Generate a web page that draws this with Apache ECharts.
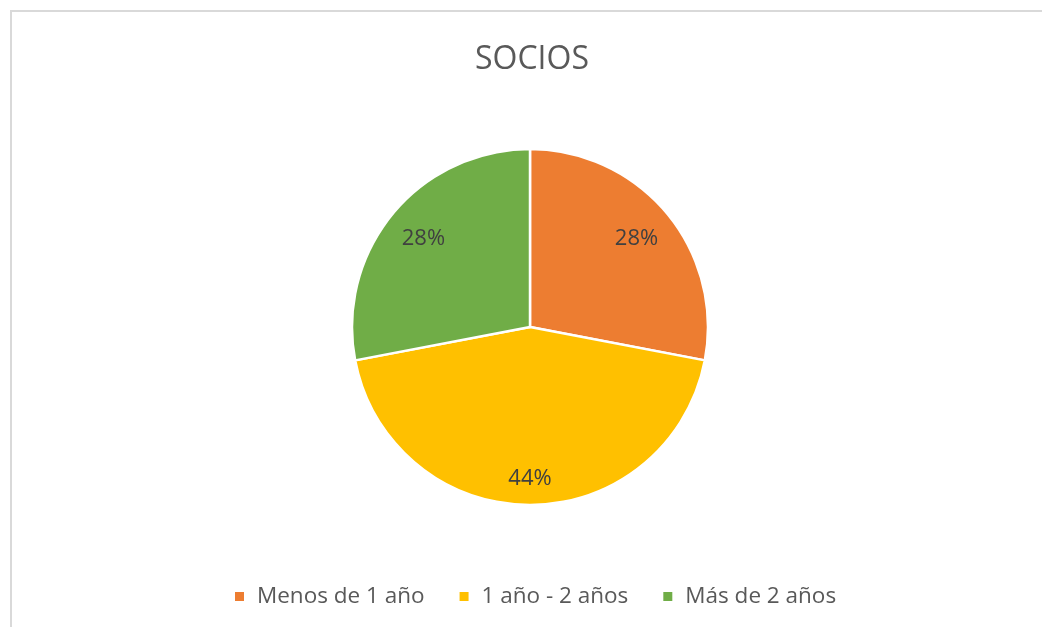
<!DOCTYPE html>
<html>
<head>
<meta charset="utf-8">
<title>SOCIOS</title>
<script src="https://cdn.jsdelivr.net/npm/echarts@6/dist/echarts.min.js"></script>
<style>
  html, body { margin: 0; padding: 0; background: #fff; }
  #main { width: 1042px; height: 627px; }
</style>
</head>
<body>
<div id="main"></div>
<script>
// datos del gráfico
const categorias = ['Menos de 1 año', '1 año - 2 años', 'Más de 2 años']
const valores = [28, 44, 28]
const colores = ['#ED7D31', '#FFC000', '#70AD47']

const R = 178
const datos = categorias.map((c, i) => ({
  name: c,
  value: valores[i],
  itemStyle: { color: colores[i] }
}))

const myChart = echarts.init(document.getElementById('main'), null, { renderer: 'canvas' })

myChart.setOption({
  animation: false,
  backgroundColor: '#ffffff',
  textStyle: { fontFamily: 'Open Sans' },
  title: {
    text: 'SOCIOS',
    left: 527,
    top: 39,
    textAlign: 'center',
    textStyle: {
      fontFamily: 'Open Sans',
      fontSize: 32,
      fontWeight: 'normal',
      color: '#595959'
    }
  },
  legend: {
    data: categorias,
    left: 230,
    top: 580,
    icon: 'rect',
    itemWidth: 9,
    itemHeight: 9,
    itemGap: 35,
    itemStyle: { borderWidth: 0 },
    textStyle: {
      fontFamily: 'Open Sans',
      fontSize: 22.5,
      color: '#595959',
      padding: [0, 0, 0, 8]
    }
  },
  graphic: [
    {
      // marco del área del gráfico
      type: 'rect',
      silent: true,
      shape: { x: 11, y: 11, width: 1060, height: 650 },
      style: { fill: null, stroke: '#d9d9d9', lineWidth: 2 }
    }
  ],
  series: [
    {
      type: 'pie',
      center: [530, 327],
      radius: R,
      startAngle: 90,
      clockwise: true,
      silent: true,
      data: datos,
      label: { show: false },
      labelLine: { show: false },
      itemStyle: { borderColor: '#ffffff', borderWidth: 2.5 }
    },
    {
      // solo para las etiquetas de porcentaje
      type: 'pie',
      center: [530, 327],
      radius: [R * 0.52, R],
      startAngle: 90,
      clockwise: true,
      silent: true,
      data: datos.map((d, i) => ({
        name: d.name,
        value: d.value,
        label: i === 1 ? { offset: [0, 13] } : {}
      })),
      itemStyle: { color: 'rgba(0,0,0,0)' },
      label: {
        show: true,
        position: 'inside',
        formatter: '{c}%',
        fontFamily: 'Open Sans',
        fontSize: 22,
        color: '#404040'
      },
      labelLine: { show: false }
    }
  ]
})
</script>
</body>
</html>
